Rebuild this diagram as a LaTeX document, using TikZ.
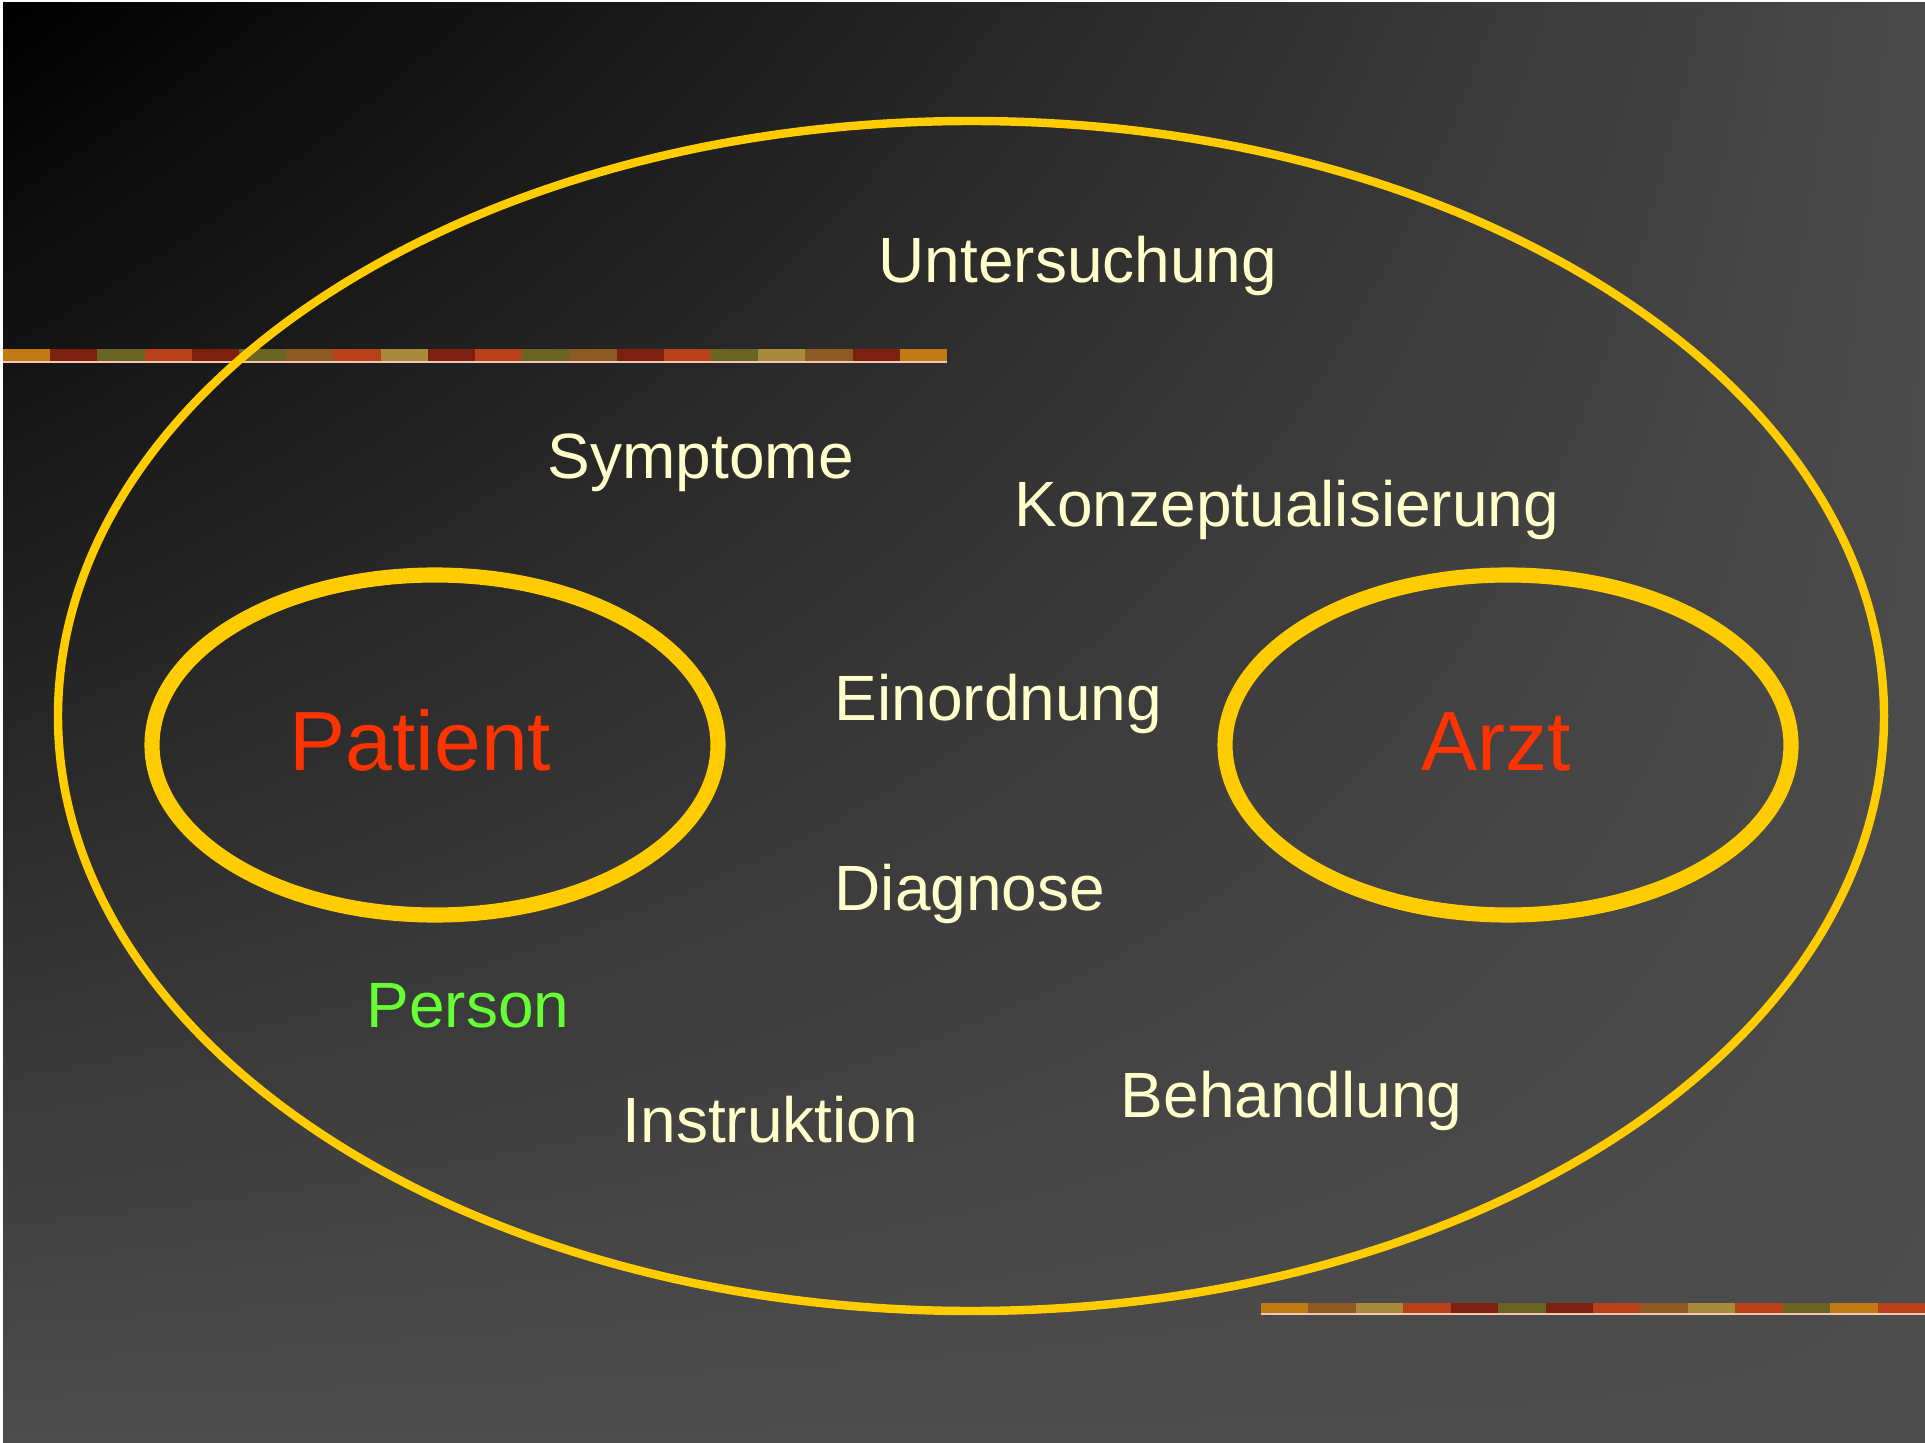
\documentclass[tikz,border=0pt]{standalone}
\usepackage{fontspec}
\setmainfont{Liberation Sans}
\usetikzlibrary{shadings}
\definecolor{ringyellow}{HTML}{FFCC00}
\definecolor{termcream}{HTML}{FFFFCC}
\definecolor{rolered}{HTML}{FF3300}
\definecolor{persongreen}{HTML}{66FF33}
\definecolor{bgdark}{HTML}{000000}
\definecolor{bgtop}{HTML}{4A4A4A}
\definecolor{bglow}{HTML}{4D4D4D}
\definecolor{barA}{HTML}{C27A12}
\definecolor{barB}{HTML}{7C2010}
\definecolor{barC}{HTML}{6A6424}
\definecolor{barD}{HTML}{B8401A}
\definecolor{barE}{HTML}{8C5A24}
\definecolor{barF}{HTML}{A88A3C}
\definecolor{barline}{HTML}{F4C8B0}
\tikzset{
    ring/.style = {draw=ringyellow, line width=2.4pt},
    innerring/.style = {draw=ringyellow, line width=4.3pt},
    term/.style = {text=termcream, anchor=base west, inner sep=0pt,
        font=\fontsize{18.2}{22}\selectfont},
    role/.style = {text=rolered, anchor=base west, inner sep=0pt,
        font=\fontsize{23.9}{28}\selectfont}
}
\begin{document}
\begin{tikzpicture}[x=0.01cm, y=-0.01cm]
    \useasboundingbox (0,0) rectangle (1925,1443);
    % background
    \fill[white] (0,0) rectangle (1925,1443);
    \shade[upper left=bgdark, upper right=bgtop, lower left=bglow, lower right=bglow]
        (3,3) rectangle (1925,1443);
    % decorative bars
    \foreach \c [count=\i from 0] in {barA,barB,barC,barD,barB,barC,barE,barD,barF,barB,
                                      barD,barC,barE,barB,barD,barC,barF,barE,barB,barA}
        \fill[\c] ({3+\i*47.2},349) rectangle ++(47.3,12);
    \fill[barline] (3,361) rectangle (947,363);
    \foreach \c [count=\i from 0] in {barA,barE,barF,barD,barB,barC,barB,barD,
                                      barE,barF,barD,barC,barA,barD}
        \fill[\c] ({1261+\i*47.43},1303) rectangle ++(47.5,10);
    \fill[barline] (1261,1313) rectangle (1925,1315);
    % ellipses
    \draw[ring] (971,716) ellipse [x radius=913, y radius=595];
    \draw[innerring] (435,745) ellipse [x radius=283, y radius=170];
    \draw[innerring] (1508,745) ellipse [x radius=283, y radius=170];
    % labels
    \node[term] (untersuchung) at (878,283) {Untersuchung};
    \node[term] (symptome) at (547,479) {Symptome};
    \node[term] (konzept) at (1014,527) {Konzeptualisierung};
    \node[term] (einordnung) at (834,720) {Einordnung};
    \node[term] (diagnose) at (834,910) {Diagnose};
    \node[term] (instruktion) at (622,1142) {Instruktion};
    \node[term] (behandlung) at (1120,1117) {Behandlung};
    \node[term, text=persongreen] (person) at (366,1027) {Person};
    \node[role] (patient) at (289,770) {Patient};
    \node[role] (arzt) at (1421,770) {Arzt};
\end{tikzpicture}
\end{document}
